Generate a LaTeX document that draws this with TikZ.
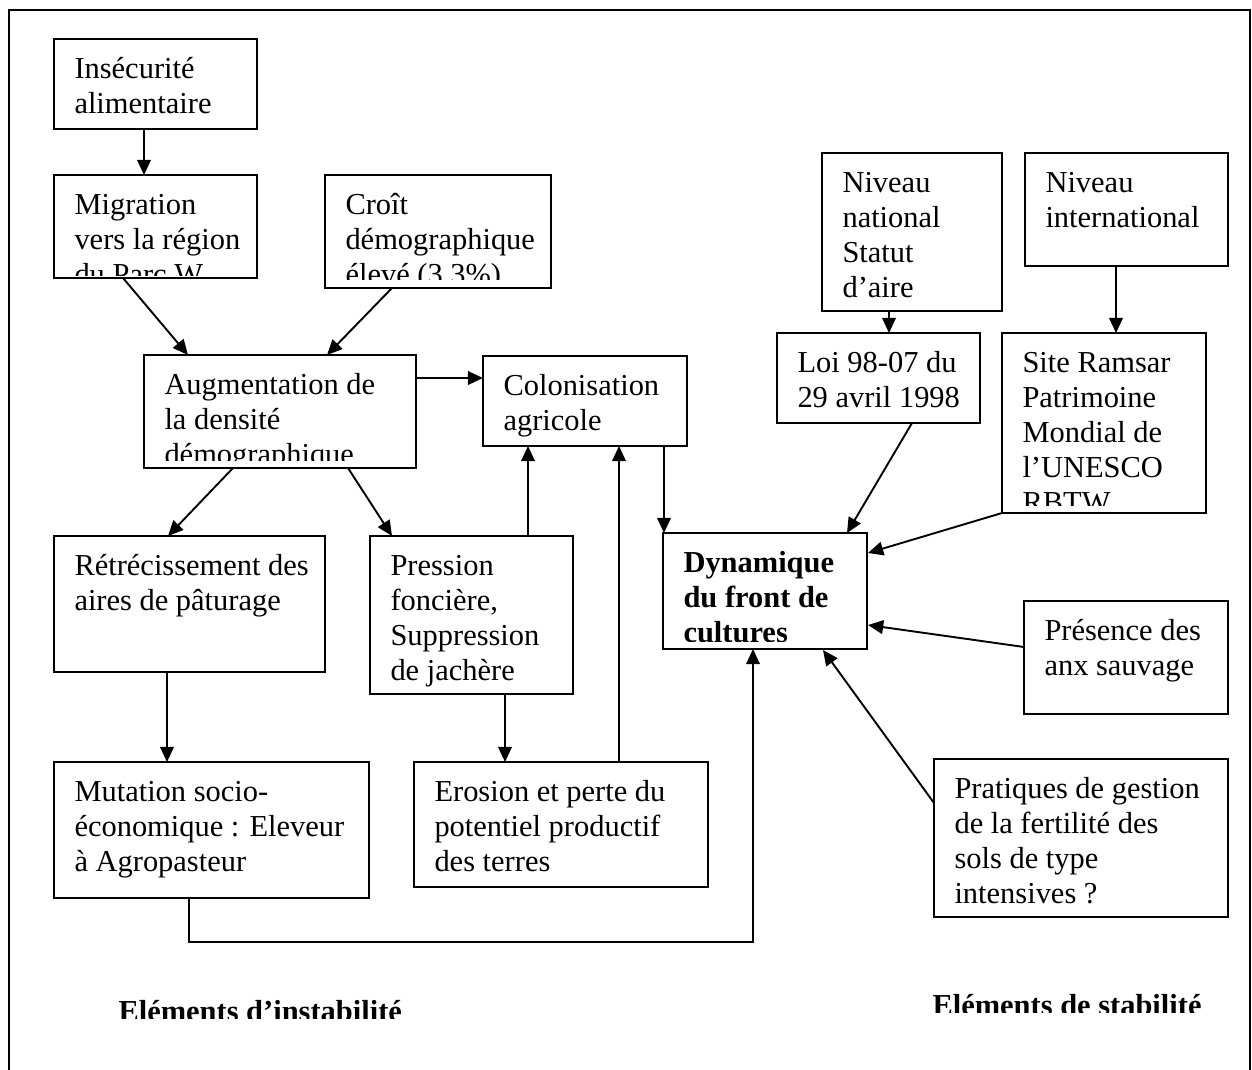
\documentclass[tikz,border=0pt]{standalone}
\usepackage{fontspec}
\setmainfont{Liberation Serif}
\usetikzlibrary{arrows.meta,calc}
\newcommand\mkbox[7][8]{%
  \node[box, minimum width={(#5-#3)*0.394pt}, minimum height={(#6-#4)*0.394pt}, anchor=north west] (#2) at (#3,#4) {};
  \begin{scope}
    \clip (#3,#4) rectangle (#5,#6-#1);
    \node[txt] (#2t) at (#3+20,#4+39.5) {\parbox[t]{12cm}{\raggedright #7}};
  \end{scope}}
\begin{document}
\begin{tikzpicture}[x=0.394pt,y=-0.394pt,
  box/.style={draw, line width=0.75pt, inner sep=0pt, outer sep=0pt},
  txt/.style={anchor=base west, inner sep=0pt, font=\fontsize{12}{13.8}\selectfont},
  arr/.style={line width=0.75pt, -{Triangle[length=6pt,width=5.4pt]}}]
\useasboundingbox (0,0) rectangle (1252,1070);
\draw[line width=0.8pt] (9,1080) -- (9,10) -- (1250,10) -- (1250,1080);

\mkbox{ins}{54}{39}{257}{129}{Insécurité\\alimentaire}
\mkbox[2]{mig}{54}{175}{257}{278}{Migration\\vers la région\\du Parc W}
\mkbox{cro}{325}{175}{551}{288}{Croît\\démographique\\élevé (3,3\%)}
\mkbox{aug}{144}{355}{416}{468}{Augmentation de\\la densité\\démographique}
\mkbox{col}{483}{356}{687}{446}{Colonisation\\agricole}
\mkbox{ret}{54}{536}{325}{672}{Rétrécissement des\\aires de pâturage}
\mkbox{pre}{370}{536}{573}{694}{Pression\\foncière,\\Suppression\\de jachère}
\mkbox{mut}{54}{762}{369}{898}{Mutation socio-\\économique : Eleveur\\à Agropasteur}
\mkbox{ero}{414}{762}{708}{887}{Erosion et perte du\\potentiel productif\\des terres}
\mkbox{dyn}{663}{533}{867}{649}{\textbf{Dynamique\\du front de\\cultures}}
\mkbox{nat}{822}{153}{1002}{311}{Niveau\\national\\Statut\\d’aire}
\mkbox{int}{1025}{153}{1228}{266}{Niveau\\international}
\mkbox{loi}{777}{333}{980}{423}{Loi 98-07 du\\29 avril 1998}
\mkbox{site}{1002}{333}{1206}{513}{Site Ramsar\\Patrimoine\\Mondial de\\l’UNESCO\\RBTW}
\mkbox{pres}{1024}{601}{1228}{714}{Présence des\\anx sauvage}
\mkbox{prat}{934}{759}{1228}{917}{Pratiques de gestion\\de la fertilité des\\sols de type\\intensives ?}

\draw[arr] ($(ins.south west)+(90,0)$) -- ($(mig.north west)+(90,0)$);
\draw[arr] ($(mig.south west)+(69,0)$) -- ($(aug.north west)+(44,0)$);
\draw[arr] ($(cro.south west)+(67,0)$) -- ($(aug.north west)+(183,0)$);
\draw[arr] ($(aug.north east)+(0,23)$) -- ($(col.north west)+(0,22)$);
\draw[arr] ($(aug.south west)+(89,0)$) -- ($(ret.north west)+(114,0)$);
\draw[arr] ($(aug.south west)+(204,0)$) -- ($(pre.north west)+(22,0)$);
\draw[arr] ($(ret.south west)+(113,0)$) -- ($(mut.north west)+(113,0)$);
\draw[arr] ($(pre.north west)+(158,0)$) -- ($(col.south west)+(45,0)$);
\draw[arr] ($(pre.south west)+(135,0)$) -- ($(ero.north west)+(91,0)$);
\draw[arr] ($(ero.north west)+(205,0)$) -- ($(col.south west)+(136,0)$);
\draw[arr] ($(col.south west)+(181,0)$) -- ($(dyn.north west)+(1,0)$);
\draw[arr] ($(mut.south west)+(135,0)$) -- ++(0,44) -| ($(dyn.south west)+(90,0)$);
\draw[arr] ($(nat.south west)+(67,0)$) -- ($(loi.north west)+(112,0)$);
\draw[arr] ($(int.south west)+(91,0)$) -- ($(site.north west)+(114,0)$);
\draw[arr] ($(loi.south west)+(135,0)$) -- ($(dyn.north west)+(184,0)$);
\draw[arr] (site.south west) -- ($(dyn.north east)+(1,20)$);
\draw[arr] ($(pres.north west)+(0,46)$) -- ($(dyn.north east)+(1,92)$);
\draw[arr] ($(prat.north west)+(0,44)$) -- ($(dyn.south west)+(160,1)$);

\begin{scope}
  \clip (100,985) rectangle (420,1018);
  \node[txt] (lab1) at (118,1021) {\textbf{Eléments d’instabilité}};
\end{scope}
\begin{scope}
  \clip (900,975) rectangle (1230,1012);
  \node[txt] (lab2) at (932,1015) {\textbf{Eléments de stabilité}};
\end{scope}
\end{tikzpicture}
\end{document}
